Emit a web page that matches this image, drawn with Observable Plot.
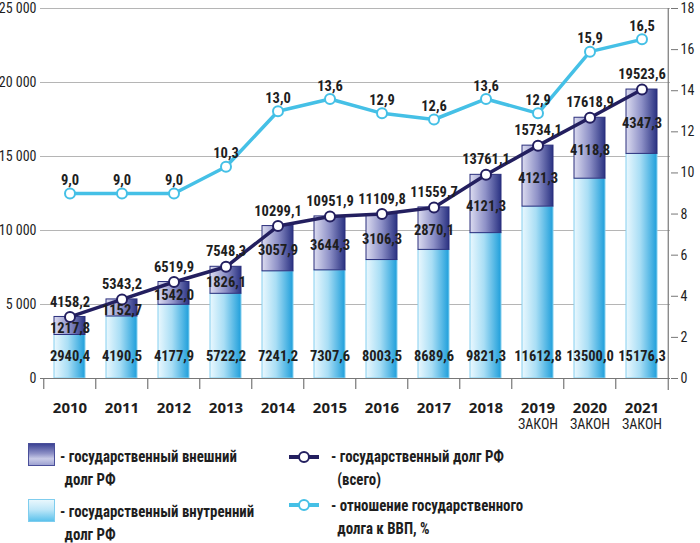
<!DOCTYPE html>
<html>
<head>
<meta charset="utf-8">
<script src="https://cdn.jsdelivr.net/npm/d3@7"></script>
<script src="https://cdn.jsdelivr.net/npm/@observablehq/plot@0.6"></script>
<style>
  html, body { margin: 0; padding: 0; background: #fff; }
  #wrap { position: relative; width: 700px; height: 543px; overflow: hidden; font-family: "Liberation Sans Narrow", "Roboto Condensed", "DejaVu Sans Condensed", sans-serif; color: #1e1e1e; }
  #chart svg { display: block; }
  .lg { position: absolute; font-weight: bold; font-size: 16.5px; line-height: 23px; white-space: nowrap; transform: scaleX(0.9); transform-origin: 0 0; }
  .sw { position: absolute; width: 27px; height: 23px; box-sizing: border-box; }
  .li { position: absolute; width: 30px; height: 4px; }
  .li span { position: absolute; left: 9px; top: -4px; width: 8px; height: 8px; border-radius: 50%; background: #fff; border: 2px solid; box-sizing: content-box; }
</style>
</head>
<body>
<div id="wrap">
  <div id="chart"></div>
  <div class="sw" style="left:28px;top:443px;background:linear-gradient(to bottom,#3c4394 0%,#8d90c6 45%,#c9cbe7 70%,#9ea2d2 100%);border:1px solid #4a4f9a;"></div>
  <div class="lg" style="left:60px;top:445px;">- государственный внешний<br><span style="padding-left:5px">долг РФ</span></div>
  <div class="sw" style="left:28px;top:499px;background:linear-gradient(to bottom,#e9f7fd 0%,#bfe7f8 45%,#5cc2ec 100%);border:1px solid #7fcdee;"></div>
  <div class="lg" style="left:60px;top:500px;">- государственный внутренний<br><span style="padding-left:5px">долг РФ</span></div>
  <div class="li" style="left:289px;top:455px;background:#231f5f;"><span style="border-color:#231f5f"></span></div>
  <div class="lg" style="left:331px;top:445px;">- государственный долг РФ<br><span style="padding-left:7px">(всего)</span></div>
  <div class="li" style="left:289px;top:503px;background:#45c0e6;"><span style="border-color:#45c0e6"></span></div>
  <div class="lg" style="left:331px;top:494px;">- отношение государственного<br><span style="padding-left:7px">долга к ВВП, %</span></div>
</div>
<script>
const years = ["2010","2011","2012","2013","2014","2015","2016","2017","2018","2019","2020","2021"];
const lawYears = ["2019","2020","2021"];
// labels as printed
const internal = [2940.4, 4190.5, 4177.9, 5722.2, 7241.2, 7307.6, 8003.5, 8689.6, 9821.3, 11612.8, 13500.0, 15176.3];
const external = [1217.8, 1152.7, 1542.0, 1826.1, 3057.9, 3644.3, 3106.3, 2870.1, 4121.3, 4121.3, 4118.8, 4347.3];
const total    = [4158.2, 5343.2, 6519.9, 7548.3, 10299.1, 10951.9, 11109.8, 11559.7, 13761.1, 15734.1, 17618.9, 19523.6];
// internal bar heights as drawn in the picture (2012 bar reaches ~4978)
const internalBar = [2940.4, 4190.5, 4977.9, 5722.2, 7241.2, 7307.6, 8003.5, 8689.6, 9821.3, 11612.8, 13500.0, 15176.3];
const gdpShare = [9.0, 9.0, 9.0, 10.3, 13.0, 13.6, 12.9, 12.6, 13.6, 12.9, 15.9, 16.5];
const leftTicks = [0, 5000, 10000, 15000, 20000, 25000];
const rightTicks = [0, 2, 4, 6, 8, 10, 12, 14, 16, 18];

const K = 25000 / 18;
const data = years.map((y, i) => ({
  year: y, internal: internal[i], external: external[i], total: total[i],
  intBar: internalBar[i], pct: gdpShare[i], pctY: gdpShare[i] * K,
  extMid: (internalBar[i] + total[i]) / 2
}));
const fmt = d => d.toFixed(1).replace(".", ",");
const fmtK = d3.formatLocale({thousands: "\u00a0", grouping: [3], decimal: ","}).format(",");
const FF = "'Liberation Sans Narrow','Roboto Condensed','DejaVu Sans Condensed',sans-serif";
const ink = "#1e1e1e";

const chart = Plot.plot({
  width: 700, height: 435,
  marginTop: 8, marginBottom: 57, marginLeft: 40, marginRight: 30,
  style: {fontFamily: FF, fontSize: "14px", color: ink, background: "#fff"},
  x: {type: "band", domain: years, paddingInner: 0.41, paddingOuter: 0.205, axis: null},
  y: {domain: [0, 25000], axis: null},
  marks: [
    Plot.gridY(leftTicks, {stroke: "#b5b5b5", strokeOpacity: 1, strokeWidth: 1}),
    Plot.axisY(leftTicks, {anchor: "left", label: null, tickSize: 0, tickPadding: 4, tickFormat: fmtK, fontSize: 14, fontFamily: FF, fill: ink}),
    Plot.axisY(rightTicks.map(d => d * K), {anchor: "right", label: null, tickSize: 7, tickPadding: 3, stroke: "#777", tickFormat: d => String(Math.round(d / K)), fontSize: 14, fontFamily: FF, fill: ink}),
    Plot.barY(data, {x: "year", y1: 0, y2: "intBar", fill: "url(#gInt)", stroke: "#86d0ef", strokeWidth: 1}),
    Plot.barY(data, {x: "year", y1: "intBar", y2: "total", fill: "url(#gExt)", stroke: "#2b2f7c", strokeWidth: 1}),
    Plot.ruleY([0], {stroke: "#777", strokeWidth: 1.2}),
    Plot.ruleX(years, {x: d => d, dx: -26.25, insetTop: 370, insetBottom: -11, stroke: "#777", strokeWidth: 1.2}),
    Plot.ruleX([years[years.length - 1]], {x: d => d, dx: 26.25, insetBottom: -12, stroke: "#777", strokeWidth: 1.2}),
    Plot.axisX(years, {label: null, tickSize: 0, tickPadding: 24, fontSize: 15, fontWeight: "bold", fontFamily: "'Open Sans',sans-serif", fill: ink}),
    Plot.text(lawYears, {x: d => d, frameAnchor: "bottom", dy: 50, text: () => "ЗАКОН", fontSize: 14, fill: ink}),
    Plot.line(data, {x: "year", y: "pctY", stroke: "#45c0e6", strokeWidth: 3.5}),
    Plot.dot(data, {x: "year", y: "pctY", r: 5, fill: "#fff", stroke: "#45c0e6", strokeWidth: 2}),
    Plot.line(data, {x: "year", y: "total", stroke: "#231f5f", strokeWidth: 3.5}),
    Plot.dot(data, {x: "year", y: "total", r: 5, fill: "#fff", stroke: "#231f5f", strokeWidth: 2}),
    Plot.text(data, {x: "year", y: "pctY", dy: -13, text: d => fmt(d.pct), fontSize: 14.5, fontWeight: "bold", fill: ink}),
    Plot.text(data, {x: "year", y: "total", dy: -15, text: d => fmt(d.total), fontSize: 14.5, fontWeight: "bold", fill: ink}),
    Plot.text(data, {x: "year", y: "extMid", dy: 2, text: d => fmt(d.external), fontSize: 14.5, fontWeight: "bold", fill: ink}),
    Plot.text(data, {x: "year", y: 1480, text: d => fmt(d.internal), fontSize: 14.5, fontWeight: "bold", fill: ink})
  ]
});

d3.select(chart).insert("defs", ":first-child").html(`
  <linearGradient id="gInt" x1="0" x2="1" y1="0" y2="0">
    <stop offset="0" stop-color="#eaf8fe"/>
    <stop offset="0.45" stop-color="#a9def5"/>
    <stop offset="1" stop-color="#1f9fdb"/>
  </linearGradient>
  <linearGradient id="gExt" x1="0" x2="1" y1="0" y2="0">
    <stop offset="0" stop-color="#dcdcf0"/>
    <stop offset="0.5" stop-color="#8e91c7"/>
    <stop offset="1" stop-color="#2a3282"/>
  </linearGradient>`);
document.getElementById("chart").appendChild(chart);
</script>
</body>
</html>
